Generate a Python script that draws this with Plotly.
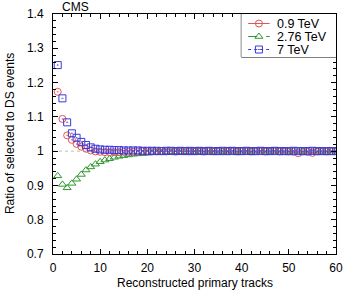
import plotly.graph_objects as go

tracks = list(range(1, 61))

ratio_09 = [1.173, 1.094, 1.046, 1.033, 1.021, 1.013, 1.007, 1.002, 0.999, 0.998,
            0.997, 0.997, 0.997, 0.997, 0.998, 0.998, 0.998, 0.999, 0.999, 0.999,
            0.999, 0.999, 1.000, 0.999, 1.000, 0.999, 1.000, 1.000, 0.999, 1.000,
            1.000, 0.999, 1.000, 1.000, 1.000, 0.999, 1.000, 1.000, 0.999, 1.000,
            1.000, 0.999, 1.000, 1.000, 0.999, 1.000, 1.000, 0.999, 1.000, 0.999,
            0.998, 0.994, 0.999, 0.998, 0.995, 0.999, 1.000, 0.999, 1.000, 1.000]

ratio_276 = [0.928, 0.903, 0.893, 0.906, 0.918, 0.932, 0.945, 0.954, 0.962, 0.969,
             0.974, 0.978, 0.982, 0.985, 0.987, 0.989, 0.991, 0.992, 0.993, 0.994,
             0.995, 0.996, 0.996, 0.997, 0.997, 0.998, 0.998, 0.998, 0.999, 0.999,
             0.999, 0.999, 1.000, 0.999, 1.000, 0.999, 1.000, 1.000, 0.999, 1.000,
             1.000, 0.999, 1.000, 1.000, 1.000, 0.999, 1.000, 1.000, 1.000, 0.999,
             1.000, 1.000, 0.999, 1.000, 1.000, 1.000, 0.999, 1.000, 1.000, 1.000]

ratio_7 = [1.251, 1.154, 1.084, 1.052, 1.039, 1.027, 1.018, 1.011, 1.007, 1.005,
           1.004, 1.004, 1.003, 1.003, 1.002, 1.002, 1.002, 1.002, 1.001, 1.001,
           1.001, 1.001, 1.000, 1.001, 1.001, 1.000, 1.001, 1.000, 1.001, 1.000,
           1.001, 1.000, 1.001, 1.000, 1.000, 1.001, 1.000, 1.001, 1.000, 1.000,
           1.001, 1.000, 1.000, 1.001, 1.000, 1.000, 1.001, 1.000, 1.000, 1.000,
           1.001, 1.000, 1.000, 1.000, 1.001, 1.000, 1.000, 1.000, 1.000, 1.000]

labels = ["0.9 TeV", "2.76 TeV", "7 TeV"]
colors = ["#e25555", "#2f962f", "#3838dc"]
symbols = ["circle-open-dot", "triangle-up-open", "square-open-dot"]
dashes = ["solid", "dash", "dot"]

FONT = "Liberation Sans, Arial, Helvetica, sans-serif"

# pixel layout
W, H = 349, 291
L, R, T, B = 53, 6, 14, 37
PW, PH = W - L - R, H - T - B
# legend box in pixels (left, top, right, bottom)
LB = (246, 14, 343, 57)

def px_x(p):
    return (p - L) / PW

def px_y(p):
    return (H - B - p) / PH

fig = go.Figure()

# data traces (order: green, red, blue on top)
for idx, ys in ((1, ratio_276), (0, ratio_09), (2, ratio_7)):
    fig.add_trace(go.Scatter(
        x=tracks, y=ys, mode="markers", showlegend=False,
        marker=dict(symbol=symbols[idx], size=7, color=colors[idx],
                    line=dict(width=1, color=colors[idx]))))

# manual legend drawn on an overlay axis (frame in pixels of legend box)
lw, lh = LB[2] - LB[0], LB[3] - LB[1]
row_from_top = [9.5, 22.5, 35.5]
for lab, col, sym, dsh, r in zip(labels, colors, symbols, dashes, row_from_top):
    yy = lh - r
    fig.add_trace(go.Scatter(
        x=[7, 29], y=[yy, yy], mode="lines", xaxis="x2", yaxis="y2",
        showlegend=False, line=dict(color=col, width=1, dash=dsh), hoverinfo="skip"))
    fig.add_trace(go.Scatter(
        x=[18], y=[yy], mode="markers", xaxis="x2", yaxis="y2", showlegend=False,
        marker=dict(symbol=sym, size=7, color=col, line=dict(width=1, color=col)),
        hoverinfo="skip"))
    fig.add_annotation(text=lab, xref="x2", yref="y2", x=35, y=yy,
                       xanchor="left", yanchor="middle", showarrow=False,
                       font=dict(family=FONT, size=12.5, color="black"),
                       borderpad=0)

fig.add_shape(type="rect", xref="paper", yref="paper",
              x0=px_x(LB[0]), x1=px_x(LB[2]), y0=px_y(LB[3]), y1=px_y(LB[1]),
              line=dict(color="black", width=1), fillcolor="white", layer="below")

fig.add_shape(type="line", xref="x", yref="y", x0=0, x1=60, y0=1, y1=1,
              line=dict(color="#bbbbbb", width=1, dash="dot"), layer="below")

axis_common = dict(showline=True, linecolor="black", linewidth=1, mirror="allticks",
                   ticks="inside", ticklen=5, tickcolor="black", showgrid=False,
                   zeroline=False, tickfont=dict(family=FONT, size=12, color="black"))

fig.update_xaxes(range=[0, 60], dtick=10, tick0=0,
                 minor=dict(ticks="inside", dtick=2, ticklen=3, tickcolor="black"),
                 ticklabelstandoff=3, ticklabeloverflow="allow", **axis_common)
fig.update_yaxes(range=[0.7, 1.4], dtick=0.1, tick0=0.7,
                 minor=dict(ticks="inside", dtick=0.02, ticklen=3, tickcolor="black"),
                 ticklabelstandoff=6, **axis_common)

fig.update_layout(
    xaxis2=dict(domain=[px_x(LB[0]), px_x(LB[2])], range=[0, lw], anchor="y2",
                visible=False, fixedrange=True),
    yaxis2=dict(domain=[px_y(LB[3]), px_y(LB[1])], range=[0, lh], anchor="x2",
                visible=False, fixedrange=True),
)

fig.add_annotation(text="CMS", xref="paper", yref="paper", x=px_x(60), y=1,
                   xanchor="left", yanchor="bottom", showarrow=False,
                   font=dict(family=FONT, size=12, color="black"), yshift=-2)
fig.add_annotation(text="Reconstructed primary tracks", xref="paper", yref="paper",
                   x=0.5, y=px_y(283), xanchor="center", yanchor="middle",
                   showarrow=False, font=dict(family=FONT, size=12, color="black"))
fig.add_annotation(text="Ratio of selected to DS events", xref="paper", yref="paper",
                   x=px_x(9), y=0.5, xanchor="center", yanchor="middle",
                   textangle=-90, showarrow=False,
                   font=dict(family=FONT, size=12, color="black"))

fig.update_layout(
    width=W, height=H,
    margin=dict(l=L, r=R, t=T, b=B),
    paper_bgcolor="white", plot_bgcolor="white",
    font=dict(family=FONT, size=12, color="black"),
    showlegend=False,
)

fig.write_html("out.html")
